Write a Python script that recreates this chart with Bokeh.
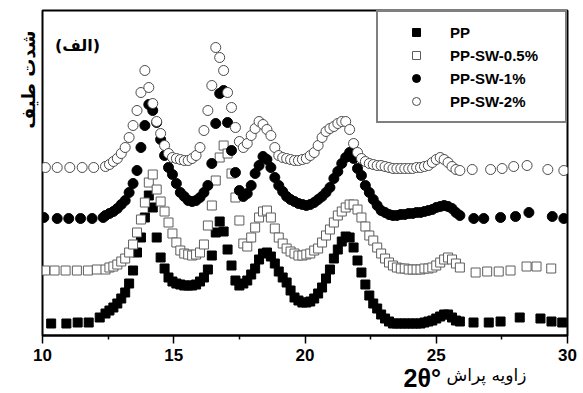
from bokeh.plotting import figure
from bokeh.models import Range1d, Legend, LegendItem, Label, FixedTicker, Title
from bokeh.embed import file_html
from bokeh.resources import INLINE

# ---- data (2theta in degrees, intensity in arbitrary units, curves stacked) ----
two_theta = [12.40, 12.55, 12.70, 12.85, 13.00, 13.15, 13.30, 13.45, 13.60, 13.75,
             13.90, 14.05, 14.20, 14.35, 14.50, 14.65, 14.80, 14.95, 15.10, 15.25,
             15.40, 15.55, 15.70, 15.85, 16.00, 16.15, 16.30, 16.45, 16.60, 16.75,
             16.90, 17.05, 17.20, 17.35, 17.50, 17.65, 17.80, 17.95, 18.10, 18.25,
             18.40, 18.55, 18.70, 18.85, 19.00, 19.15, 19.30, 19.45, 19.60, 19.75,
             19.90, 20.05, 20.20, 20.35, 20.50, 20.65, 20.80, 20.95, 21.10, 21.25,
             21.40, 21.55, 21.70, 21.85, 22.00, 22.15, 22.30, 22.45, 22.60, 22.75,
             22.90, 23.05, 23.20, 23.35, 23.50, 23.65, 23.80, 23.95, 24.10, 24.25,
             24.40, 24.55, 24.70, 24.85, 25.00, 25.15, 25.30, 25.45, 25.60, 25.75,
             25.90]

pp_y = [22, 25, 28, 32, 37, 43, 52, 65, 83, 98,
        118, 140, 128, 98, 78, 67, 58, 54, 52, 51,
        50, 50, 50, 51, 54, 58, 66, 80, 103, 114,
        104, 86, 70, 55, 50, 52, 55, 61, 67, 76,
        82, 83, 79, 72, 64, 58, 53, 45, 38, 35,
        33, 33, 34, 37, 42, 48, 57, 66, 77, 86,
        94, 99, 98, 88, 75, 63, 51, 40, 32, 27,
        21, 17, 14, 12, 12, 12, 12, 12, 12, 12,
        12, 13, 14, 15, 17, 19, 21, 21, 18, 15,
        14]
pp_left_x = [10.33, 10.91, 11.34, 11.76, 12.18]
pp_left_y = [12, 12, 13, 13, 18]
pp_right_x = [26.42, 27.00, 27.45, 28.18, 28.97, 29.39, 29.80]
pp_right_y = [13, 13, 14, 18, 17, 14, 13]

sw05_y = [66, 68, 69, 71, 74, 77, 83, 91, 103, 116,
          133, 153, 161, 146, 134, 124, 113, 102, 93, 85,
          82, 81, 80, 81, 83, 91, 110, 130, 155, 178,
          190, 182, 162, 138, 115, 92, 89, 98, 108, 118,
          124, 125, 118, 107, 98, 92, 87, 84, 82, 80,
          80, 81, 82, 85, 87, 93, 100, 106, 113, 120,
          124, 128, 131, 131, 126, 118, 109, 100, 95, 88,
          82, 77, 73, 70, 68, 67, 67, 66, 66, 66,
          66, 67, 67, 68, 70, 73, 76, 78, 76, 72,
          68]
sw05_left_x = [10.10, 10.46, 10.88, 11.31, 11.73, 12.07]
sw05_left_y = [65, 65, 65, 65, 65, 66]
sw05_right_x = [26.50, 26.94, 27.38, 27.83, 28.44, 28.82, 29.38]
sw05_right_y = [63, 64, 64, 65, 69, 69, 67]

sw1_y = [120, 122, 124, 127, 131, 135, 143, 152, 165, 188,
         210, 231, 225, 213, 196, 180, 168, 161, 152, 143,
         139, 135, 134, 135, 138, 143, 150, 172, 212, 242,
         245, 213, 185, 163, 145, 139, 142, 150, 162, 170,
         179, 176, 168, 158, 150, 144, 139, 136, 134, 132,
         131, 130, 131, 133, 136, 139, 143, 148, 157, 164,
         172, 178, 183, 177, 167, 160, 150, 143, 136, 130,
         125, 123, 121, 120, 120, 121, 121, 122, 122, 123,
         123, 124, 125, 126, 128, 129, 130, 129, 127, 123,
         120]
sw1_left_x = [10.05, 10.56, 11.00, 11.45, 11.89, 12.31]
sw1_left_y = [118, 117, 117, 117, 117, 118]
sw1_right_x = [26.43, 26.81, 27.45, 28.02, 28.53, 29.42, 29.86]
sw1_right_y = [117, 117, 118, 119, 123, 119, 117]

sw2_y = [169, 171, 174, 177, 182, 188, 198, 210, 225, 243,
         265, 248, 232, 214, 202, 190, 182, 178, 177, 176,
         175, 175, 177, 180, 188, 205, 225, 250, 288, 278,
         265, 243, 228, 208, 194, 188, 192, 200, 207, 214,
         211, 206, 200, 188, 180, 178, 177, 176, 175, 175,
         176, 177, 180, 183, 190, 198, 204, 207, 209, 212,
         214, 214, 206, 192, 183, 177, 174, 172, 171, 170,
         170, 169, 168, 167, 167, 167, 167, 167, 167, 168,
         168, 169, 170, 173, 176, 178, 176, 173, 169, 166,
         165]
sw2_left_x = [10.11, 10.56, 11.04, 11.51, 11.95]
sw2_left_y = [168, 168, 168, 168, 168]
sw2_right_x = [26.37, 27.07, 27.51, 27.95, 28.46, 29.25, 29.86]
sw2_right_y = [166, 166, 167, 169, 170, 166, 165]

series_names = ["PP", "PP-SW-0.5%", "PP-SW-1%", "PP-SW-2%"]
x_ticks = [10, 15, 20, 25, 30]
x_minor_ticks = [12.5, 17.5, 22.5, 27.5]

# ---- figure ----
p = figure(width=578, height=392, x_range=Range1d(10, 30), y_range=Range1d(0, 325),
           output_backend="svg", toolbar_location=None,
           min_border_left=42, min_border_right=11, min_border_top=10, min_border_bottom=57)
p.xgrid.visible = False
p.ygrid.visible = False
p.yaxis.visible = False
p.outline_line_color = "black"
p.outline_line_width = 2
p.background_fill_color = "white"
p.border_fill_color = "white"

ax = p.xaxis[0]
ax.ticker = FixedTicker(ticks=x_ticks, minor_ticks=x_minor_ticks)
ax.axis_line_width = 2
ax.major_tick_in = 0
ax.major_tick_out = 8
ax.minor_tick_in = 0
ax.minor_tick_out = 4
ax.major_tick_line_width = 1.5
ax.minor_tick_line_width = 1.5
ax.major_label_standoff = 5
ax.major_label_text_font = "Liberation Sans"
ax.major_label_text_font_style = "bold"
ax.major_label_text_font_size = "17px"
ax.major_label_text_color = "black"

r_pp = p.scatter(pp_left_x + two_theta + pp_right_x, pp_left_y + pp_y + pp_right_y,
                 marker="square", size=9, fill_color="black", line_color="black")
r_05 = p.scatter(sw05_left_x + two_theta + sw05_right_x, sw05_left_y + sw05_y + sw05_right_y,
                 marker="square", size=9, fill_color="white", line_color="#5e5e5e", line_width=1)
r_1 = p.scatter(sw1_left_x + two_theta + sw1_right_x, sw1_left_y + sw1_y + sw1_right_y,
                marker="circle", size=10, fill_color="black", line_color="black")
r_2 = p.scatter(sw2_left_x + two_theta + sw2_right_x, sw2_left_y + sw2_y + sw2_right_y,
                marker="circle", size=10, fill_color="white", line_color="#4a4a4a", line_width=1)

legend = Legend(items=[LegendItem(label=series_names[0], renderers=[r_pp]),
                       LegendItem(label=series_names[1], renderers=[r_05]),
                       LegendItem(label=series_names[2], renderers=[r_1]),
                       LegendItem(label=series_names[3], renderers=[r_2])],
                location="top_right", margin=0, padding=10, spacing=3,
                glyph_width=56, glyph_height=20, label_height=20, label_width=105,
                label_standoff=6,
                border_line_color="black", border_line_width=2,
                background_fill_color="white", background_fill_alpha=1,
                label_text_font="Liberation Sans", label_text_font_style="bold",
                label_text_font_size="15px", label_text_color="black")
p.add_layout(legend)

p.add_layout(Label(x=35, y=290, x_units="screen", y_units="screen", text="(الف)",
                   text_font="DejaVu Sans", text_font_style="bold", text_font_size="16px",
                   text_align="center", text_baseline="middle", text_color="black"))

y_title = Title(text="شدت طیف", align="right", offset=20, standoff=7,
                text_font="DejaVu Sans", text_font_style="bold", text_font_size="18px",
                text_color="black")
p.add_layout(y_title, "left")

x_title_sym = Title(text="2θ°", align="left", offset=361, standoff=-4,
                    text_font="Liberation Sans", text_font_style="bold", text_font_size="25px",
                    text_color="black")
p.add_layout(x_title_sym, "below")
x_title_fa = Title(text="زاویه پراش", align="left", offset=404, standoff=-50,
                   vertical_align="top",
                   text_font="DejaVu Sans", text_font_style="normal", text_font_size="17px",
                   text_color="black")
p.add_layout(x_title_fa, "below")

open("out.html", "w").write(file_html(p, INLINE))
